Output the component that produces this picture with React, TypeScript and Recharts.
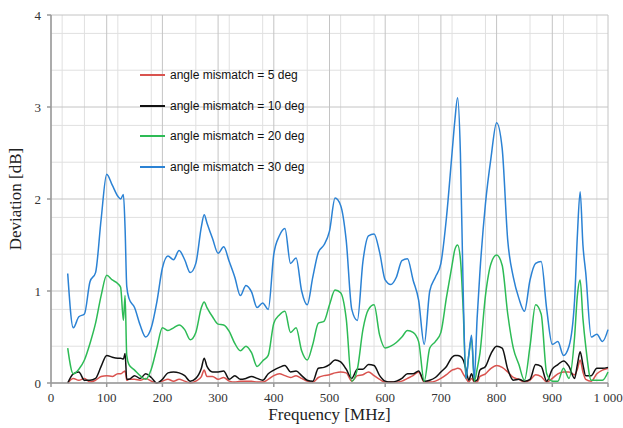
import { LineChart, Line, XAxis, YAxis, CartesianGrid } from 'recharts'

// frequency points [MHz], denser where the curves have sharp features
const freq = [
  30, 40, 50, 60, 70, 80, 90, 100, 110, 120, 125, 130, 133, 136,
  140, 150, 160, 170, 180, 190, 200, 210, 220, 230, 240, 250, 260, 270, 275,
  280, 290, 300, 310, 320, 330, 340, 350, 360, 370, 380, 390, 400, 410, 420, 430, 440, 450,
  460, 470, 480, 490, 500, 510, 520, 530, 540, 550, 560, 570, 580, 590, 600, 610, 620, 630,
  640, 650, 660, 670, 680, 690, 700, 710, 720,
  725, 730, 735, 740, 745, 750, 755, 760, 765, 770,
  780, 790, 800, 810, 820, 830, 840, 850, 860, 870, 880, 890, 900, 910, 920, 930, 940,
  945, 950, 955, 960,
  970, 980, 990, 1000,
]

// deviation [dB] per angle mismatch
const dev5 = [
  0.0, 0.05, 0.03, 0.05, 0.01, 0.03, 0.07, 0.08, 0.07, 0.1, 0.1, 0.12, 0.13, 0.03,
  0.04, 0.04, 0.03, 0.05, 0.02, 0.0, 0.02, 0.04, 0.02, 0.04, 0.02, 0.0, 0.02, 0.07, 0.14,
  0.07, 0.07, 0.04, 0.06, 0.02, 0.01, 0.02, 0.02, 0.02, 0.01, 0.01, 0.04, 0.08, 0.1, 0.08, 0.06, 0.08, 0.05,
  0.02, 0.01, 0.06, 0.08, 0.09, 0.11, 0.12, 0.11, 0.02, 0.08, 0.09, 0.12, 0.08, 0.04, 0.01, 0.01, 0.01, 0.02,
  0.05, 0.08, 0.12, 0.01, 0.01, 0.02, 0.05, 0.09, 0.14,
  0.15, 0.16, 0.15, 0.1, 0.05, 0.01, 0.05, 0.01, 0.01, 0.07,
  0.1, 0.16, 0.19, 0.17, 0.12, 0.06, 0.04, 0.01, 0.03, 0.09, 0.07, 0.01, 0.05, 0.1, 0.12, 0.12, 0.09,
  0.15, 0.25, 0.12, 0.04,
  0.02, 0.1, 0.14, 0.16,
]

const dev10 = [
  0.0, 0.1, 0.12, 0.03, 0.03, 0.05, 0.18, 0.3, 0.28, 0.27, 0.27, 0.26, 0.32, 0.04,
  0.04, 0.08, 0.05, 0.1, 0.06, 0.0, 0.04, 0.11, 0.12, 0.11, 0.08, 0.02, 0.05, 0.16, 0.27,
  0.18, 0.12, 0.12, 0.13, 0.04, 0.08, 0.04, 0.05, 0.07, 0.05, 0.03, 0.1, 0.14, 0.17, 0.19, 0.12, 0.13, 0.08,
  0.03, 0.02, 0.16, 0.17, 0.2, 0.25, 0.23, 0.15, 0.05, 0.15, 0.15, 0.2, 0.19, 0.08, 0.02, 0.01, 0.02, 0.05,
  0.1, 0.1, 0.13, 0.02, 0.03, 0.06, 0.12, 0.18, 0.28,
  0.3, 0.3, 0.29, 0.25, 0.15, 0.03, 0.1, 0.02, 0.03, 0.14,
  0.18, 0.32, 0.4, 0.38, 0.15, 0.03, 0.04, 0.02, 0.04, 0.2, 0.18, 0.02, 0.15, 0.2, 0.24, 0.18, 0.05,
  0.2, 0.34, 0.2, 0.08,
  0.08, 0.16, 0.16, 0.17,
]

const dev20 = [
  0.38, 0.1, 0.15, 0.25, 0.43, 0.65, 0.95, 1.17, 1.12, 1.08, 1.04, 0.68, 0.95, 0.3,
  0.2, 0.14, 0.08, 0.04, 0.15, 0.38, 0.6, 0.57, 0.6, 0.63, 0.58, 0.47, 0.55, 0.82, 0.88,
  0.82, 0.72, 0.64, 0.63, 0.56, 0.43, 0.35, 0.4, 0.33, 0.18, 0.24, 0.3, 0.65, 0.74, 0.78, 0.55, 0.6, 0.35,
  0.25, 0.42, 0.65, 0.67, 0.85, 1.01, 0.98, 0.7, 0.02, 0.15, 0.58, 0.8, 0.85, 0.52, 0.38, 0.4, 0.44, 0.5,
  0.57, 0.55, 0.45, 0.02, 0.38, 0.45, 0.55, 0.93, 1.28,
  1.45, 1.5, 1.35, 0.8, 0.05, 0.3, 0.48, 0.02, 0.15, 0.32,
  0.95, 1.3, 1.39, 1.28, 0.75, 0.38, 0.2, 0.03, 0.4, 0.85, 0.75, 0.1, 0.02, 0.02, 0.16, 0.05, 0.5,
  0.95, 1.12, 0.7, 0.4,
  0.03, 0.03, 0.03, 0.12,
]

const dev30 = [
  1.19, 0.6, 0.72, 0.75, 1.1, 1.2, 1.78, 2.27, 2.15, 2.03, 2.0, 2.05, 1.68, 1.05,
  0.92, 0.82, 0.63, 0.5, 0.6, 0.88, 1.25, 1.38, 1.34, 1.44, 1.34, 1.2, 1.3, 1.7, 1.83,
  1.74, 1.57, 1.41, 1.48, 1.32, 1.15, 0.95, 1.06, 0.99, 0.82, 0.87, 0.8, 1.4, 1.6, 1.68, 1.3, 1.36, 1.0,
  0.85, 1.15, 1.42, 1.5, 1.65, 2.01, 1.93, 1.55, 0.8, 0.68, 1.32, 1.6, 1.62, 1.42, 1.12, 1.07, 1.15, 1.33,
  1.35, 1.12, 0.9, 0.42, 1.0, 1.15, 1.3, 1.8, 2.5,
  2.85, 3.1, 2.5, 1.0, 0.05, 0.3, 0.52, 0.05, 0.7, 1.2,
  1.95, 2.45, 2.83, 2.55, 1.55, 1.15, 0.92, 0.78, 1.12, 1.3, 1.32, 0.8, 0.42, 0.45, 0.3, 0.4, 0.9,
  1.6, 2.08, 1.5, 1.2,
  0.5, 0.53, 0.45, 0.58,
]

const xTicks = [0, 100, 200, 300, 400, 500, 600, 700, 800, 900, 1000]
const yTicks = [0, 1, 2, 3, 4]
const xMinor = Array.from({ length: 51 }, (_, i) => i * 20).filter((v) => v % 100 !== 0)
const yMinor = Array.from({ length: 21 }, (_, i) => +(i * 0.2).toFixed(1)).filter((v) => v % 1 !== 0)

const series = [
  { key: 'd5', name: 'angle mismatch = 5 deg', color: '#d9534f' },
  { key: 'd10', name: 'angle mismatch = 10 deg', color: '#111111' },
  { key: 'd20', name: 'angle mismatch = 20 deg', color: '#2dbb55' },
  { key: 'd30', name: 'angle mismatch = 30 deg', color: '#2b82d4' },
]

const data = freq.map((f, i) => ({ freq: f, d5: dev5[i], d10: dev10[i], d20: dev20[i], d30: dev30[i] }))

const serif = '"Liberation Serif", "Times New Roman", serif'
const tickStyle = { fontSize: 13, fill: '#333', fontFamily: serif }

// legend sits inside the plot area, drawn as a plain overlay
function LegendBox() {
  return (
    <div
      style={{
        position: 'absolute',
        left: 140,
        top: 60,
        fontFamily: '"Liberation Sans", Arial, sans-serif',
        fontSize: 12,
        color: '#111',
      }}
    >
      {series.map((s) => (
        <div key={s.key} style={{ display: 'flex', alignItems: 'center', height: 30.5 }}>
          <span style={{ display: 'inline-block', width: 25, height: 2, background: s.color, marginRight: 5 }} />
          <span>{s.name}</span>
        </div>
      ))}
    </div>
  )
}

export default function App() {
  return (
    <div style={{ position: 'absolute', left: 0, top: 0, width: 623, height: 428, background: '#fff' }}>
      <LineChart width={623} height={428} data={data} margin={{ top: 15, right: 15, left: 0, bottom: 0 }}>
        <CartesianGrid stroke="#e0e0e0" strokeWidth={1} verticalValues={xMinor} horizontalValues={yMinor} />
        <CartesianGrid stroke="#c4c4c4" strokeWidth={1} verticalValues={xTicks} horizontalValues={yTicks} />
        <XAxis
          type="number"
          dataKey="freq"
          domain={[0, 1000]}
          ticks={xTicks}
          tickFormatter={(v: number) => (v === 1000 ? '1 000' : String(v))}
          tick={tickStyle}
          stroke="#999"
          strokeWidth={1.5}
          tickSize={4}
          tickMargin={6}
          height={45}
          label={{ value: 'Frequency  [MHz]', position: 'insideBottom', offset: 8, style: { fontFamily: serif, fontSize: 17, fill: '#222' } }}
        />
        <YAxis
          domain={[0, 4]}
          ticks={yTicks}
          tick={tickStyle}
          stroke="#999"
          strokeWidth={1.5}
          tickSize={4}
          tickMargin={6}
          width={51}
          label={{ value: 'Deviation [dB]', angle: -90, position: 'insideLeft', offset: 15, style: { fontFamily: serif, fontSize: 17, fill: '#222', textAnchor: 'middle' } }}
        />
        {series.map((s) => (
          <Line
            key={s.key}
            type="monotone"
            dataKey={s.key}
            name={s.name}
            stroke={s.color}
            strokeWidth={1.5}
            dot={false}
            isAnimationActive={false}
          />
        ))}
      </LineChart>
      <LegendBox />
    </div>
  )
}
